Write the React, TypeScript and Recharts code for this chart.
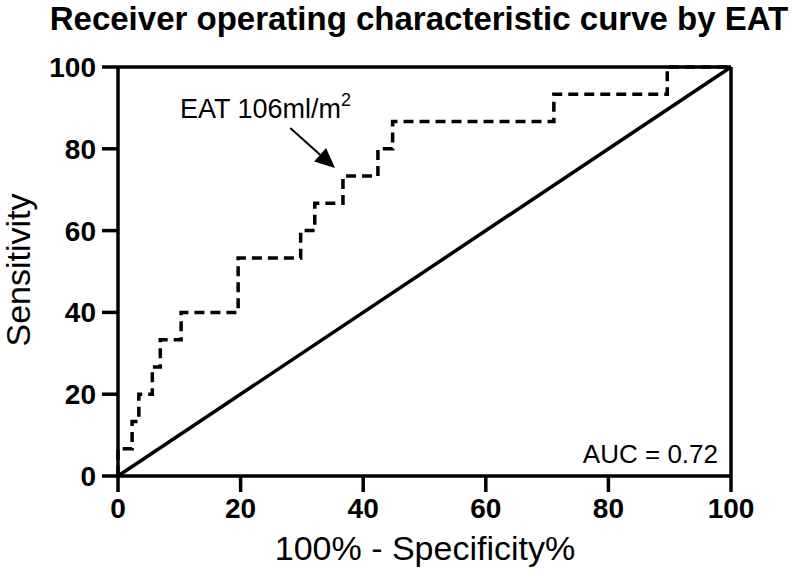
import { LineChart, Line, XAxis, YAxis, ReferenceLine } from "recharts";

// 100% - specificity (x) and sensitivity (y) for each ROC corner
const fpr = [0, 0, 2.3, 3.4, 5.6, 6.9, 10.3, 19.6, 29.8, 32.1, 36.7, 42.4, 44.8, 71.1, 89.6, 100];
const tpr = [0, 6.67, 13.33, 20, 26.67, 33.33, 40, 53.33, 60, 66.67, 73.33, 80, 86.67, 93.33, 100, 100];
const diagX = [0, 100];
const diagY = [0, 100];
const ticks = [0, 20, 40, 60, 80, 100];

// arrow from label toward the cut-off point
const arrowFrom = { x: 28.1, y: 85.1 };
const arrowTo = { x: 35.4, y: 75.3 };

const rocData = fpr.map((x, i) => ({ x, y: tpr[i] }));
const diagData = diagX.map((x, i) => ({ x, y: diagY[i] }));

const FONT = "'Liberation Sans', Arial, sans-serif";
const axisStyle = { stroke: "#000", strokeWidth: 3.5 };
const tickStyle = { fontSize: 28, fontWeight: 700, fill: "#000", fontFamily: FONT };

function Arrow(props: any) {
  const { x1, y1, x2, y2 } = props;
  const ang = Math.atan2(y2 - y1, x2 - x1);
  const len = 20;
  const w = 9;
  const bx = x2 - len * Math.cos(ang);
  const by = y2 - len * Math.sin(ang);
  const px = -Math.sin(ang) * w;
  const py = Math.cos(ang) * w;
  return (
    <g>
      <line x1={x1} y1={y1} x2={bx} y2={by} stroke="#000" strokeWidth={2} />
      <polygon points={`${x2},${y2} ${bx + px},${by + py} ${bx - px},${by - py}`} fill="#000" />
    </g>
  );
}

export default function App() {
  return (
    <div style={{ position: "absolute", left: 0, top: 0, width: 800, height: 583, background: "#fff" }}>
      <LineChart width={800} height={583} margin={{ top: 67, right: 69, bottom: 0, left: 0 }}>
        <XAxis
          type="number"
          dataKey="x"
          domain={[0, 100]}
          ticks={ticks}
          height={107}
          tickSize={16}
          tickMargin={6}
          axisLine={axisStyle}
          tickLine={axisStyle}
          tick={tickStyle}
          allowDuplicatedCategory={false}
        />
        <YAxis
          type="number"
          dataKey="y"
          domain={[0, 100]}
          ticks={ticks}
          width={118}
          tickSize={16}
          tickMargin={6}
          axisLine={axisStyle}
          tickLine={axisStyle}
          tick={tickStyle}
        />
        <ReferenceLine y={100} stroke="#000" strokeWidth={3.5} />
        <ReferenceLine x={100} stroke="#000" strokeWidth={3.5} />
        <Line
          data={diagData}
          dataKey="y"
          type="linear"
          stroke="#000"
          strokeWidth={3.5}
          dot={false}
          isAnimationActive={false}
        />
        <Line
          data={rocData}
          dataKey="y"
          type="stepAfter"
          stroke="#000"
          strokeWidth={3.5}
          strokeDasharray="10 6"
          dot={false}
          isAnimationActive={false}
        />
        <ReferenceLine
          segment={[arrowFrom, arrowTo]}
          shape={<Arrow />}
        />
      </LineChart>
      <svg
        width={800}
        height={583}
        style={{ position: "absolute", left: 0, top: 0, pointerEvents: "none" }}
        fontFamily={FONT}
      >
        <text x={419} y={30} textAnchor="middle" fontSize={33} fontWeight={700} fill="#000">
          Receiver operating characteristic curve by EAT
        </text>
        <text
          x={0}
          y={0}
          transform="translate(30,270) rotate(-90)"
          textAnchor="middle"
          fontSize={34}
          fill="#000"
        >
          Sensitivity
        </text>
        <text x={425} y={560} textAnchor="middle" fontSize={34} fill="#000">
          100% - Specificity%
        </text>
        <text x={718} y={463} textAnchor="end" fontSize={26} fill="#000">
          AUC = 0.72
        </text>
        <text x={180} y={118} fontSize={27} fill="#000">
          EAT 106ml/m
          <tspan dy={-12} fontSize={18}>2</tspan>
        </text>
      </svg>
    </div>
  );
}
